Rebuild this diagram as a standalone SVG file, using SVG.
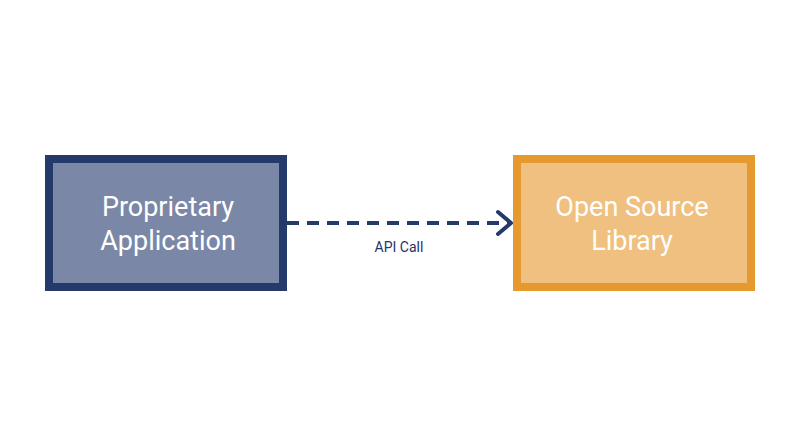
<svg xmlns="http://www.w3.org/2000/svg" width="800" height="447" viewBox="0 0 800 447">
<style>
.t{font-family:Roboto,"Liberation Sans",sans-serif;fill:#fff;font-size:27px;text-anchor:middle}
.l{font-family:Roboto,"Liberation Sans",sans-serif;fill:#1f3566;font-size:14px;text-anchor:middle}
</style>
<rect width="800" height="447" fill="#fff"/>
<g id="proprietary">
<rect x="49" y="159" width="234" height="128" fill="#7a87a6" stroke="#233a6b" stroke-width="8"/>
<text class="t" x="168" y="216">Proprietary</text>
<text class="t" x="168" y="250">Application</text>
</g>
<g id="library">
<rect x="517" y="159" width="234" height="128" fill="#efc07f" stroke="#e5992e" stroke-width="8"/>
<text class="t" x="632" y="216">Open Source</text>
<text class="t" x="632" y="250">Library</text>
</g>
<g id="connectors">
<line x1="287" y1="223" x2="508" y2="223" stroke="#233a6b" stroke-width="4" stroke-dasharray="12,8"/>
<polyline points="498,212 511,223 498,234" fill="none" stroke="#233a6b" stroke-width="4" stroke-linecap="round" stroke-linejoin="round"/>
<text class="l" x="399" y="252">API Call</text>
</g>
</svg>
